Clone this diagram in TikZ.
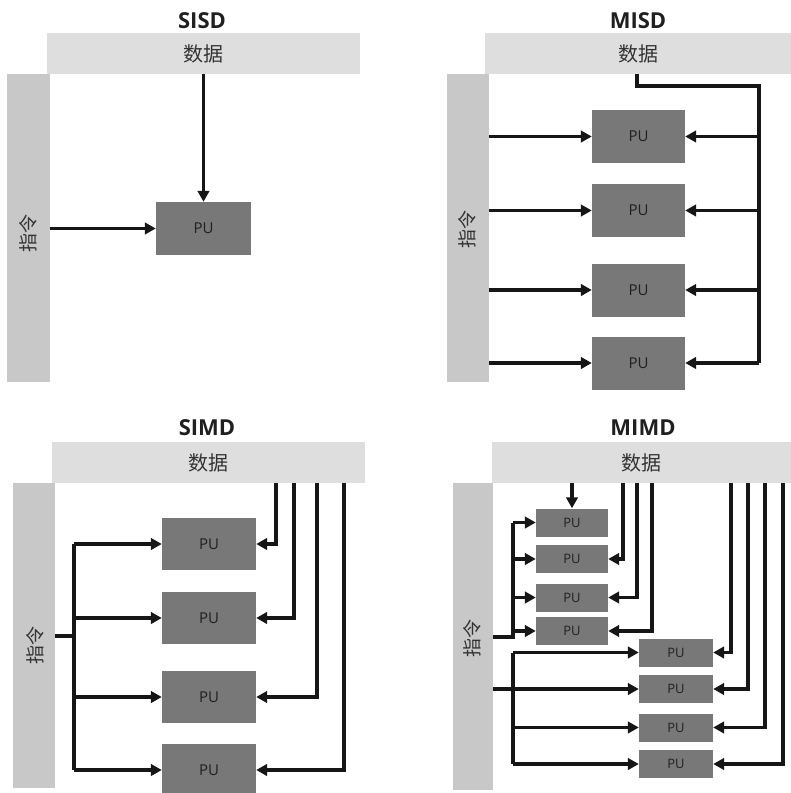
\documentclass[tikz,border=0pt]{standalone}
\usepackage{fontspec}
\setmainfont{Open Sans}
\newfontfamily\cjk{Noto Sans CJK SC}
\usetikzlibrary{arrows.meta}
\definecolor{databg}{HTML}{DEDEDE}
\definecolor{instbg}{HTML}{C8C8C8}
\definecolor{pubg}{HTML}{787878}
\definecolor{putx}{HTML}{202020}
\definecolor{lnc}{HTML}{161616}
\tikzset{
  ttl/.style={font=\fontsize{22}{22}\selectfont\bfseries, text=black!88},
  databar/.style={fill=databg, draw=none, inner sep=0pt, font=\cjk\fontsize{20}{20}\selectfont, text=black!80},
  instbar/.style={fill=instbg, draw=none, inner sep=0pt},
  instlbl/.style={font=\cjk\fontsize{19}{19}\selectfont, text=black!80, rotate=90, inner sep=0pt},
  pu/.style={fill=pubg, draw=none, inner sep=0pt, font=\fontsize{15}{15}\selectfont, text=putx},
  spu/.style={pu, font=\fontsize{13}{13}\selectfont},
  ln/.style={draw=lnc, line width=3.4pt},
  arr/.style={ln, -{Triangle[length=11pt,width=11.5pt]}},
}
\begin{document}
\begin{tikzpicture}[x=1pt,y=-1pt]
\useasboundingbox (0,0) rectangle (791,793);
% ================= SISD =================
\node[ttl] (t1) at (202,21) {SISD};
\node[databar, minimum width=313pt, minimum height=41pt] (d1) at (203.5,53.5) {数据};
\node[instbar, minimum width=43pt, minimum height=308pt] (i1) at (28.5,228) {};
\node[instlbl] (l1) at (28,233) {指令};
\node[pu, minimum width=95pt, minimum height=53pt] (p1) at (203.5,228.5) {PU};
\draw[arr] (p1.north |- d1.south) -- (p1.north);
\draw[arr] (i1.east |- p1.west) -- (p1.west);
% ================= MISD =================
\node[ttl] (t2) at (638,21) {MISD};
\node[databar, minimum width=306pt, minimum height=41pt] (d2) at (638,53.5) {数据};
\node[instbar, minimum width=42pt, minimum height=308pt] (i2) at (468,228) {};
\node[instlbl] (l2) at (467,229) {指令};
\foreach \n/\y in {1/136.5, 2/210.5, 3/290, 4/363}{
  \node[pu, minimum width=93pt, minimum height=53pt] (p2\n) at (638.5,\y) {PU};
}
\coordinate (ms) at (637,74);
\coordinate (mc) at (759,86);
\draw[ln] (ms) -- (ms |- mc) -- (mc) -- (mc |- p24.east);
\foreach \n in {1,2,3,4}{
  \draw[arr] (mc |- p2\n.east) -- (p2\n.east);
  \draw[arr] (i2.east |- p2\n.west) -- (p2\n.west);
}
% ================= SIMD =================
\node[ttl] (t3) at (207,428) {SIMD};
\node[databar, minimum width=313pt, minimum height=41pt] (d3) at (208.5,462.5) {数据};
\node[instbar, minimum width=42pt, minimum height=305pt] (i3) at (34,635.5) {};
\node[instlbl] (l3) at (35,645) {指令};
\foreach \n/\y in {1/544, 2/618, 3/697, 4/770}{
  \node[pu, minimum width=94pt, minimum height=52pt] (p3\n) at (209,\y) {PU};
}
\coordinate (sj) at (74,636);
\draw[ln] (i3.east |- sj) -- (sj);
\draw[ln] (sj |- p31.west) -- (sj |- p34.west);
\foreach \n/\x in {1/276, 2/294, 3/317, 4/344}{
  \draw[arr] (sj |- p3\n.west) -- (p3\n.west);
  \coordinate (sd\n) at (\x,483);
  \draw[arr] (sd\n) -- (sd\n |- p3\n.east) -- (p3\n.east);
}
% ================= MIMD =================
\node[ttl] (t4) at (643,428) {MIMD};
\node[databar, minimum width=299pt, minimum height=41pt] (d4) at (641.5,462.5) {数据};
\node[instbar, minimum width=40pt, minimum height=307pt] (i4) at (473,636.5) {};
\node[instlbl] (l4) at (472,638) {指令};
\foreach \n/\y in {1/522.5, 2/559, 3/597.5, 4/631}{
  \node[spu, minimum width=72pt, minimum height=28pt] (pa\n) at (572,\y) {PU};
}
\foreach \n/\y in {1/652.5, 2/689, 3/727.5, 4/764}{
  \node[spu, minimum width=74pt, minimum height=28pt] (pb\n) at (676,\y) {PU};
}
% upper group
\draw[arr] (pa1.north |- d4.south) -- (pa1.north);
\foreach \n/\x in {2/623, 3/637, 4/652}{
  \coordinate (ua\n) at (\x,483);
  \draw[arr] (ua\n) -- (ua\n |- pa\n.east) -- (pa\n.east);
}
\coordinate (uj) at (513,637);
\draw[ln] (i4.east |- uj) -- (uj) -- (uj |- pa1.west);
\foreach \n in {1,2,3,4}{
  \draw[arr] (uj |- pa\n.west) -- (pa\n.west);
}
% lower group
\foreach \n/\x in {1/731, 2/748, 3/765, 4/783}{
  \coordinate (ub\n) at (\x,483);
  \draw[arr] (ub\n) -- (ub\n |- pb\n.east) -- (pb\n.east);
}
\coordinate (lj) at (513,689);
\draw[arr] (i4.east |- pb2.west) -- (pb2.west);
\draw[ln] (lj |- pb1.west) -- (lj |- pb4.west);
\foreach \n in {1,3,4}{
  \draw[arr] (lj |- pb\n.west) -- (pb\n.west);
}
\end{tikzpicture}
\end{document}
